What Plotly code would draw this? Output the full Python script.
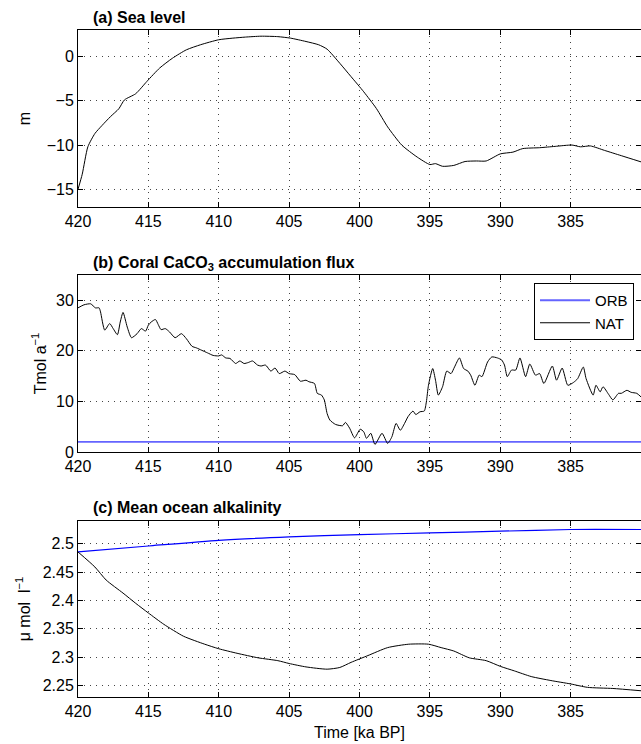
import plotly.graph_objects as go

# ---------------- data ----------------
sea_time = [420, 419.7, 419.3, 418.8, 418.3, 417.7, 417.1, 416.7, 415.9, 415.1, 414.2, 413.3,
            412.3, 411.3, 410, 409, 408.1, 407, 405.8, 404.9, 403.8, 402.9, 402.3, 401.4,
            400.6, 399.7, 398.8, 398.0, 397.0, 395.9, 395.0, 394.6, 394.1, 393.3, 392.5,
            391.7, 391.0, 390.0, 389.1, 388.4, 387.2, 386.1, 384.9, 384.3, 383.6, 382.6,
            381.4, 380.0]
sea_level = [-15.0, -13.3, -10.2, -8.7, -7.8, -6.8, -5.9, -4.9, -4.2, -2.8, -1.3, -0.2,
             0.76, 1.33, 1.9, 2.08, 2.2, 2.3, 2.25, 2.08, 1.7, 1.33, 0.83, -0.76,
             -2.27, -3.98, -5.87, -7.95, -10.0, -11.36, -12.2, -12.1, -12.4, -12.3, -11.86,
             -11.8, -11.8, -11.0, -10.8, -10.4, -10.3, -10.15, -10.0, -10.2, -10.1, -10.6,
             -11.2, -11.9]

coral_time = [420, 419.58, 419.1, 418.76, 418.5, 418.4, 418.1, 417.75, 417.5, 417.2, 417.0,
              416.8, 416.5, 416.2, 415.8, 415.5, 415.2, 415.0, 414.8, 414.5, 414.3, 414.1,
              413.8, 413.5, 413.1, 412.65, 412.3, 411.9, 411.6, 411.2, 410.8, 410.4, 410.0,
              409.8, 409.5, 409.2, 408.8, 408.5, 408.2, 407.9, 407.6, 407.25, 407.0, 406.7,
              406.6, 406.3, 406.0, 405.7, 405.3, 405.0, 404.6, 404.2, 403.8, 403.6, 403.2,
              403.0, 402.7, 402.5, 402.3, 402.1, 401.7, 401.2, 401.0, 400.7, 400.35, 399.95,
              399.7, 399.5, 399.2, 398.9, 398.4, 398.0, 397.7, 397.4, 397.1, 396.8, 396.55,
              396.2, 396.0, 395.7, 395.4, 395.25, 395.1, 394.8, 394.6, 394.4, 394.1, 393.8,
              393.5, 393.25, 392.9, 392.6, 392.3, 392.1, 391.8, 391.5, 391.3, 390.9, 390.6,
              390.2, 389.9, 389.7, 389.5, 389.2, 388.9, 388.6, 388.2, 387.9, 387.5, 387.2,
              386.9, 386.3, 386.0, 385.6, 385.2, 384.8, 384.5, 384.1, 383.9, 383.4, 383.2,
              382.9, 382.7, 382.3, 382.0, 381.6, 381.4, 381.0, 380.7, 380.3, 380.0]
coral_nat = [28.5, 29.1, 29.3, 28.5, 28.5, 27.7, 24.1, 25.4, 24.4, 23.2, 25.7,
             27.6, 24.7, 22.6, 23.4, 24.4, 23.9, 25.1, 25.7, 26.2, 25.2, 24.2,
             24.4, 23.75, 22.6, 23.4, 22.4, 20.9, 20.6, 20.1, 19.6, 19.1, 19.0,
             19.2, 18.6, 18.5, 17.5, 18.0, 17.5, 17.7, 18.0, 17.2, 17.0, 17.2,
             17.0, 16.0, 16.6, 15.5, 16.0, 15.5, 15.3, 14.0, 14.2, 13.9, 13.55,
             11.6, 11.25, 10.3, 7.6, 6.3, 5.45, 5.2, 5.85, 4.7, 2.8, 4.5,
             4.0, 2.7, 3.7, 1.5, 3.7, 1.7, 3.0, 5.65, 4.3, 5.65, 7.0,
             8.1, 7.4, 7.96, 8.1, 9.9, 13.2, 16.5, 14.2, 11.25, 12.9, 16.0,
             15.5, 16.8, 18.6, 16.5, 16.0, 15.2, 13.2, 15.2, 14.9, 17.8, 18.8,
             18.6, 18.2, 17.2, 14.9, 16.2, 16.2, 18.6, 14.9, 17.4, 15.2, 15.5,
             13.55, 17.0, 14.2, 16.6, 13.2, 13.75, 14.5, 16.8, 14.5, 11.25, 13.2,
             11.9, 12.9, 11.4, 10.3, 11.6, 11.6, 12.2, 11.8, 11.6, 10.9]

orb_flux_time = [420, 380]
orb_flux = [2.0, 2.0]

alk_orb_time = [420, 415, 410, 405, 400, 395, 390, 385, 380]
alk_orb = [2.4855, 2.496, 2.506, 2.512, 2.516, 2.519, 2.522, 2.525, 2.525]

alk_nat_time = [420, 418.8, 418.0, 416.8, 415.9, 415, 413.9, 412.5, 411.0, 410, 408.7, 407.2,
                405.8, 405, 403.8, 402.3, 401.4, 400.6, 399.4, 398.0, 396.5, 395.1, 394.2,
                393.3, 392.2, 391.0, 390.0, 389.0, 387.8, 386.4, 385.0, 383.8, 382.0, 380.0]
alk_nat = [2.4855, 2.459, 2.436, 2.413, 2.395, 2.378, 2.358, 2.337, 2.323, 2.315, 2.307, 2.299,
           2.294, 2.289, 2.283, 2.279, 2.282, 2.291, 2.303, 2.317, 2.323, 2.323, 2.317,
           2.311, 2.299, 2.294, 2.284, 2.276, 2.266, 2.259, 2.253, 2.247, 2.245, 2.241]

x_ticks = [420, 415, 410, 405, 400, 395, 390, 385]
sea_ticks = [-15, -10, -5, 0]
flux_ticks = [0, 10, 20, 30]
alk_ticks = [2.25, 2.3, 2.35, 2.4, 2.45, 2.5]
alk_tick_text = ["2.25", "2.3", "2.35", "2.4", "2.45", "2.5"]

titles = ["(a) Sea level", "(b) Coral CaCO<sub>3</sub> accumulation flux", "(c) Mean ocean alkalinity"]

# ---------------- figure ----------------
FONT = "Liberation Sans, Arial, Helvetica, sans-serif"
W, H = 641, 744
ML, MR, MT, MB = 78, 0, 30, 47
PH = H - MT - MB


def ydom(top_px, bot_px):
    return [(H - MB - bot_px) / PH, (H - MB - top_px) / PH]


fig = go.Figure()

fig.add_trace(go.Scatter(x=sea_time, y=sea_level, mode="lines",
                         line=dict(color="black", width=1, shape="spline", smoothing=0.6),
                         xaxis="x", yaxis="y", showlegend=False))
fig.add_trace(go.Scatter(x=orb_flux_time, y=orb_flux, mode="lines", name="ORB",
                         line=dict(color="rgb(100,100,255)", width=1.8), xaxis="x2", yaxis="y2"))
fig.add_trace(go.Scatter(x=coral_time, y=coral_nat, mode="lines", name="NAT",
                         line=dict(color="black", width=1, shape="spline", smoothing=0.6),
                         xaxis="x2", yaxis="y2"))
fig.add_trace(go.Scatter(x=alk_orb_time, y=alk_orb, mode="lines",
                         line=dict(color="blue", width=1.2, shape="spline", smoothing=0.6),
                         xaxis="x3", yaxis="y3", showlegend=False))
fig.add_trace(go.Scatter(x=alk_nat_time, y=alk_nat, mode="lines",
                         line=dict(color="black", width=1, shape="spline", smoothing=0.6),
                         xaxis="x3", yaxis="y3", showlegend=False))

common = dict(showline=True, linecolor="black", linewidth=1, ticks="inside", ticklen=5,
              tickcolor="black", showgrid=True, gridcolor="#444", gridwidth=1, griddash="1px,5px",
              zeroline=False, mirror="ticks", tickfont=dict(size=16, color="black", family=FONT))

xcommon = dict(common, range=[420, 380], tickvals=x_ticks)

doms = [ydom(30, 207), ydom(275, 452), ydom(521, 697)]

fig.update_layout(
    width=W, height=H,
    margin=dict(l=ML, r=MR, t=MT, b=MB),
    paper_bgcolor="white", plot_bgcolor="white",
    font=dict(family=FONT, size=16, color="black"),
    xaxis=dict(xcommon, anchor="y"),
    xaxis2=dict(xcommon, anchor="y2"),
    xaxis3=dict(xcommon, anchor="y3",
                title=dict(text="Time [ka BP]", font=dict(size=16), standoff=7)),
    yaxis=dict(common, domain=doms[0], range=[-17, 3], tickvals=sea_ticks, anchor="x",
               title=dict(text="m", font=dict(size=16), standoff=12)),
    yaxis2=dict(common, domain=doms[1], range=[0, 35], tickvals=flux_ticks, anchor="x2",
                title=dict(text="Tmol a<sup>−1</sup>", font=dict(size=16), standoff=5)),
    yaxis3=dict(common, domain=doms[2], range=[2.23, 2.54], tickvals=alk_ticks, ticktext=alk_tick_text,
                anchor="x3",
                title=dict(text="μ mol\u00a0\u00a0l<sup>−1</sup>", font=dict(size=16), standoff=8)),
    legend=dict(x=(634 - ML) / (W - ML), xanchor="right", y=(H - MB - 283) / PH, yanchor="top",
                bordercolor="black", borderwidth=1, bgcolor="white", itemwidth=50,
                font=dict(size=15, color="black", family=FONT), tracegroupgap=0),
    showlegend=True,
)

title_centers = [18, 263, 507]
for t, yc in zip(titles, title_centers):
    fig.add_annotation(text="<b>" + t + "</b>", xref="paper", yref="paper",
                       x=(91 - ML) / (W - ML), xanchor="left",
                       y=(H - MB - yc) / PH, yanchor="middle", showarrow=False,
                       font=dict(size=16, color="black", family=FONT))

fig.write_html("out.html")
